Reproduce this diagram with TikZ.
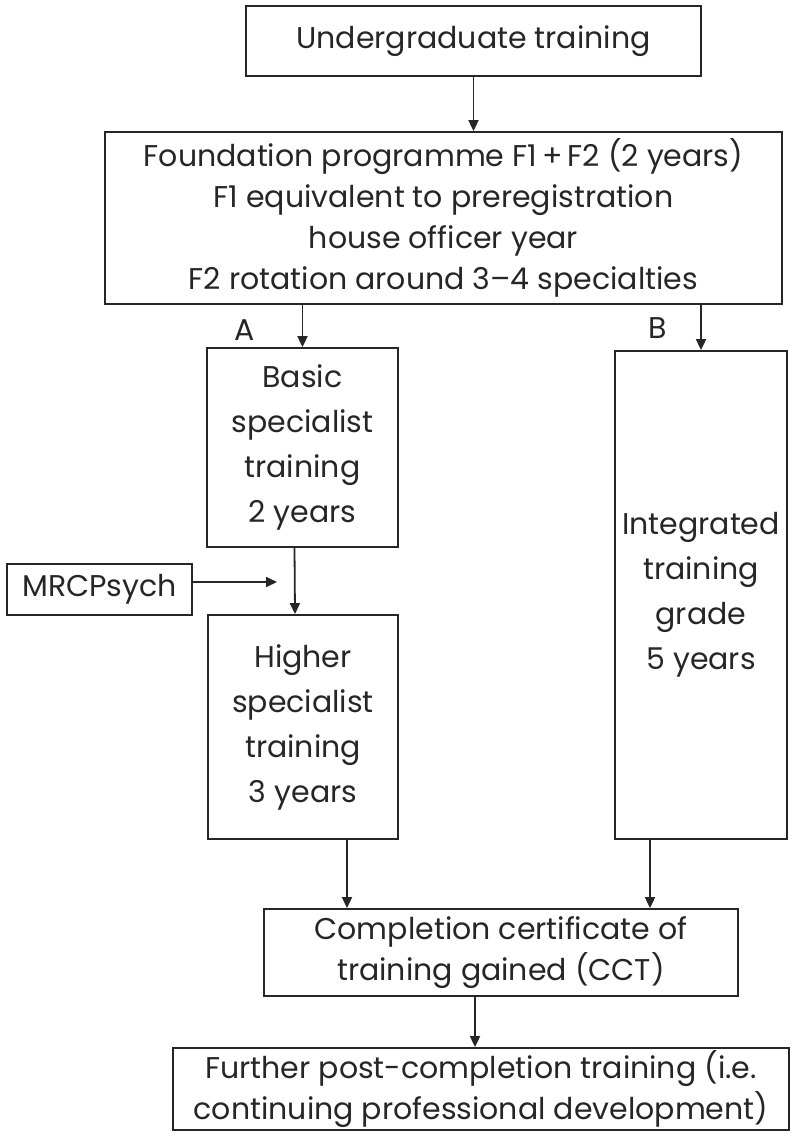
\documentclass[tikz,border=0pt]{standalone}
\usepackage{fontspec}
\setmainfont{Poppins}
\usetikzlibrary{arrows.meta}
\begin{document}
\begin{tikzpicture}[x=0.5pt, y=-0.5pt, line width=0.9pt, color=black!85,
        >={Triangle[length=5.5pt,width=5pt]},
        box/.style={draw, align=center, inner sep=0pt, font=\fontsize{15}{20.5}\selectfont},
        tall/.style={box, font=\fontsize{15}{22.5}\selectfont},
        lbl/.style={inner sep=0pt, font=\fontsize{15}{20.5}\selectfont}]
    \useasboundingbox (0,0) rectangle (793,1140);
    \node[box, minimum width=227.5pt, minimum height=35pt] (ug) at (473.5,41) {Undergraduate training};
    \node[box, minimum width=338.5pt, minimum height=86pt] (fnd) at (443.5,218) {Foundation programme F1\,+\,F2 (2 years)\\F1 equivalent to preregistration\\house officer year\\F2 rotation around 3–4 specialties};
    \node[tall, minimum width=95.5pt, minimum height=99.5pt] (bas) at (302.5,447.5) {Basic\\specialist\\training\\2 years};
    \node[box, minimum width=92.5pt, minimum height=25.5pt] (mrc) at (99.5,589.5) {MRCPsych};
    \node[tall, minimum width=95pt, minimum height=112pt] (hst) at (303,727) {Higher\\specialist\\training\\3 years};
    \node[tall, minimum width=86pt, minimum height=244pt] (itg) at (701,595) {Integrated\\training\\grade\\5 years};
    \node[box, minimum width=237pt, minimum height=43.5pt] (cct) at (501,952.5) {Completion certificate of\\training gained (CCT)};
    \node[box, minimum width=308pt, minimum height=41pt] (fur) at (481,1089) {Further post-completion training (i.e.\\continuing professional development)};
    \node[lbl] (la) at (245,330) {A};
    \node[lbl] (lb) at (658,328) {B};
    \coordinate (mrcend) at (277,582);
    \draw[->] (ug.south) -- (ug.south |- fnd.north);
    \draw[->] (bas.north |- fnd.south) -- (bas.north);
    \draw[->] (itg.north |- fnd.south) -- (itg.north);
    \draw[->] ([xshift=-4pt]bas.south) -- ([xshift=-4pt]hst.north);
    \draw[->] (mrc.east |- mrcend) -- (mrcend);
    \draw[->] ([xshift=22pt]hst.south) -- ([xshift=22pt]hst.south |- cct.north);
    \draw[->] ([xshift=-25.5pt]itg.south) -- ([xshift=-25.5pt]itg.south |- cct.north);
    \draw[->] ([xshift=-13pt]cct.south) -- ([xshift=-13pt]cct.south |- fur.north);
\end{tikzpicture}
\end{document}
